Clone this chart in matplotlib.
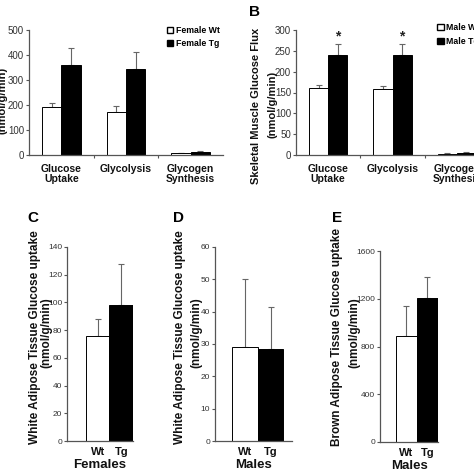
import matplotlib
matplotlib.use("Agg")
import matplotlib.pyplot as plt
import numpy as np

plt.rcParams['font.family'] = ['Liberation Sans', 'DejaVu Sans']

# ---- data ----
flux_categories = ["Glucose\nUptake", "Glycolysis", "Glycogen\nSynthesis"]
female_wt = [192, 172, 8]
female_wt_err = [16, 24, 2]
female_tg = [360, 344, 12]
female_tg_err = [68, 68, 6]

male_wt = [160, 158, 3]
male_wt_err = [7, 7, 1]
male_tg = [240, 241, 5]
male_tg_err = [26, 25, 3]

group_labels = ["Wt", "Tg"]
wat_female = [76, 98.5]
wat_female_err = [12, 29.5]
wat_male = [29, 28.5]
wat_male_err = [21, 13]
bat_male = [885, 1205]
bat_male_err = [252, 177]

W = H = 474
fig = plt.figure(figsize=(4.74, 4.74), dpi=100)

AX_COL = '#555555'
TXT_COL = '#333333'


def add_ax(x0, x1, ytop, ybot):
    return fig.add_axes([x0 / W, 1 - ybot / H, (x1 - x0) / W, (ybot - ytop) / H])


def style(ax, tick_size=7):
    for s in ['top', 'right']:
        ax.spines[s].set_visible(False)
    for s in ['left', 'bottom']:
        ax.spines[s].set_color(AX_COL)
        ax.spines[s].set_linewidth(0.9)
    ax.tick_params(axis='y', direction='out', length=2.5, width=0.8, color=AX_COL,
                   labelsize=tick_size, labelcolor=TXT_COL, pad=1)


def ptext(x, y, s, **kw):
    fig.text(x / W, 1 - y / H, s, **kw)


def flux_panel(ax, wt, wt_err, tg, tg_err, ymax, step, legend_labels, stars=False):
    x = np.arange(len(flux_categories))
    bw = 0.3
    ax.bar(x - bw / 2, wt, bw, color='white', edgecolor='black', linewidth=0.7, zorder=2)
    ax.bar(x + bw / 2, tg, bw, color='black', edgecolor='black', linewidth=0.7, zorder=2)
    ax.errorbar(x - bw / 2, wt, yerr=[np.zeros(len(wt)), wt_err], fmt='none',
                ecolor='#666666', elinewidth=0.8, capsize=2, capthick=0.8, zorder=1)
    ax.errorbar(x + bw / 2, tg, yerr=[np.zeros(len(tg)), tg_err], fmt='none',
                ecolor='#666666', elinewidth=0.8, capsize=2, capthick=0.8, zorder=1)
    ax.set_xlim(-0.5, 2.5)
    ax.set_ylim(0, ymax)
    ax.set_yticks(np.arange(0, ymax + 1, step))
    ax.set_xticks([0.5, 1.5])
    ax.set_xticklabels([])
    ax.tick_params(axis='x', direction='out', length=2, width=0.8, color=AX_COL)
    for xi, lab in zip(x, flux_categories):
        ax.text(xi, -0.07, lab, transform=ax.get_xaxis_transform(), ha='center', va='top',
                fontsize=7.5, fontweight='bold', color='#111111', linespacing=1.05)
    if stars:
        for xi, t, e in zip(x, tg, tg_err):
            if t > 100:
                ax.text(xi + bw / 2, t + e + 2, '*', ha='center', va='bottom',
                        fontsize=10, fontweight='bold', color='#222222')
    ax.bar([0], [0], 0, color='white', edgecolor='black', label=legend_labels[0])
    ax.bar([0], [0], 0, color='black', edgecolor='black', label=legend_labels[1])


# Panel A (female skeletal muscle)
axA = add_ax(29, 223, 30, 155)
style(axA)
flux_panel(axA, female_wt, female_wt_err, female_tg, female_tg_err, 500, 100,
           ["Female Wt", "Female Tg"])
leg = axA.legend(loc='upper left', bbox_to_anchor=(0.69, 1.07), frameon=False,
                 fontsize=6.3, handlelength=0.7, handleheight=0.7, handletextpad=0.3,
                 labelspacing=0.55, borderpad=0)
for t in leg.get_texts():
    t.set_fontweight('bold')
ptext(3, 100, "(nmol/g/min)", rotation=90, ha='center', va='center',
      fontsize=8, fontweight='bold', color='#111111')

# Panel B (male skeletal muscle)
axB = add_ax(296, 489, 30, 155)
style(axB)
flux_panel(axB, male_wt, male_wt_err, male_tg, male_tg_err, 300, 50,
           ["Male Wt", "Male Tg"], stars=True)
leg = axB.legend(loc='upper left', bbox_to_anchor=(0.71, 1.09), frameon=False,
                 fontsize=6.3, handlelength=0.7, handleheight=0.7, handletextpad=0.3,
                 labelspacing=0.55, borderpad=0)
for t in leg.get_texts():
    t.set_fontweight('bold')
ptext(256, 106, "Skeletal Muscle Glucose Flux", rotation=90, ha='center', va='center',
      fontsize=8, fontweight='bold', color='#111111')
ptext(272, 104, "(nmol/g/min)", rotation=90, ha='center', va='center',
      fontsize=8, fontweight='bold', color='#111111')
ptext(254, 12, "B", ha='center', va='center', fontsize=11, fontweight='bold')


def two_bar_panel(ax, vals, errs, ymax, step, xlim, group):
    x = np.arange(len(vals))
    ax.bar(x, vals, 1.0, color=['white', 'black'], edgecolor='black', linewidth=0.7, zorder=2)
    ax.errorbar(x, vals, yerr=[np.zeros(len(vals)), errs], fmt='none', ecolor='#666666',
                elinewidth=0.8, capsize=2, capthick=0.8, zorder=1)
    ax.set_xlim(*xlim)
    ax.set_ylim(0, ymax)
    ax.set_yticks(np.arange(0, ymax + 1, step))
    ax.set_xticks(x)
    ax.set_xticklabels(group_labels, fontsize=8, fontweight='bold', color='#111111')
    ax.tick_params(axis='x', length=0, pad=4)
    ax.set_xlabel(group, fontsize=9.5, fontweight='bold', color='#111111', labelpad=1.5)


# Panel C
axC = add_ax(67, 133, 247, 441)
style(axC, 6)
two_bar_panel(axC, wat_female, wat_female_err, 140, 20, (-1.3, 1.5), "Females")
ptext(35, 337, "White Adipose Tissue Glucose uptake", rotation=90, ha='center', va='center',
      fontsize=8.5, fontweight='bold', color='#111111')
ptext(46, 333, "(nmol/g/min)", rotation=90, ha='center', va='center',
      fontsize=8.5, fontweight='bold', color='#111111')
ptext(33, 218, "C", ha='center', va='center', fontsize=11, fontweight='bold')

# Panel D
axD = add_ax(215, 292, 247, 441)
style(axD, 6)
two_bar_panel(axD, wat_male, wat_male_err, 60, 10, (-1.18, 1.84), "Males")
ptext(180, 337, "White Adipose Tissue Glucose uptake", rotation=90, ha='center', va='center',
      fontsize=8.5, fontweight='bold', color='#111111')
ptext(196, 333, "(nmol/g/min)", rotation=90, ha='center', va='center',
      fontsize=8.5, fontweight='bold', color='#111111')
ptext(179, 218, "D", ha='center', va='center', fontsize=11, fontweight='bold')

# Panel E
axE = add_ax(380, 438, 251, 442)
style(axE, 6)
two_bar_panel(axE, bat_male, bat_male_err, 1600, 400, (-1.23, 1.5), "Males")
ptext(337, 337, "Brown Adipose Tissue Glucose uptake", rotation=90, ha='center', va='center',
      fontsize=8.5, fontweight='bold', color='#111111')
ptext(354, 333, "(nmol/g/min)", rotation=90, ha='center', va='center',
      fontsize=8.5, fontweight='bold', color='#111111')
ptext(337, 218, "E", ha='center', va='center', fontsize=11, fontweight='bold')

fig.savefig("out.png", dpi=100)
